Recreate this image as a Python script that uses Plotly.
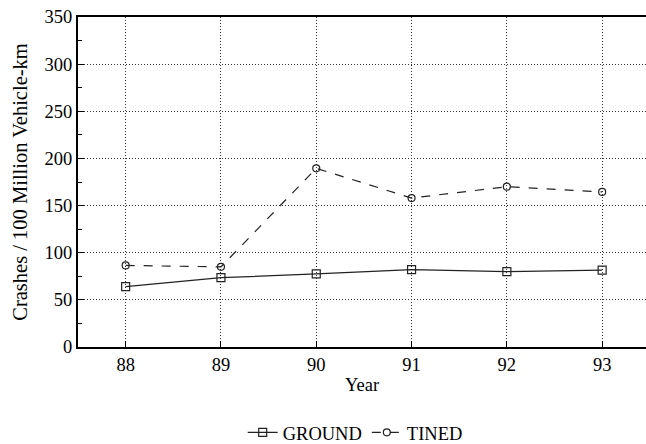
import plotly.graph_objects as go

years = [88, 89, 90, 91, 92, 93]
ground = [64, 73.5, 77.5, 82, 80, 81.5]
tined = [86.5, 85, 189.5, 158, 170, 164.5]

FONT = "Liberation Serif"
FS = 18.5

fig = go.Figure()
fig.add_trace(go.Scatter(
    x=years, y=ground, name="GROUND", mode="lines+markers",
    line=dict(color="#222", width=1.2),
    marker=dict(symbol="square-open", size=8, color="#222", line=dict(width=1.2)),
))
fig.add_trace(go.Scatter(
    x=years, y=tined, name="TINED", mode="lines+markers",
    line=dict(color="#222", width=1.2, dash="dash"),
    marker=dict(symbol="circle-open", size=7, color="#222", line=dict(width=1.2)),
))

fig.update_layout(
    width=646, height=444,
    margin=dict(l=78, r=0, t=17, b=97, autoexpand=False),
    paper_bgcolor="white", plot_bgcolor="white",
    font=dict(family=FONT, size=FS, color="black"),
    showlegend=True,
    legend=dict(orientation="h", x=0.488, xanchor="center", y=-0.26, yanchor="middle",
                font=dict(family=FONT, size=FS), itemwidth=30, tracegroupgap=0),
    xaxis=dict(
        range=[87.5, 93.46], tickmode="array", tickvals=years,
        ticktext=[str(v) for v in years],
        showline=True, linecolor="black", linewidth=2, mirror=True,
        ticks="inside", ticklen=6, tickcolor="black",
        showgrid=True, gridcolor="#333", griddash="1px,2px", gridwidth=1,
        zeroline=False, automargin=False,
        title=dict(text="Year", standoff=4, font=dict(family=FONT, size=FS)),
    ),
    yaxis=dict(
        range=[0, 350], tickmode="linear", tick0=0, dtick=50,
        showline=True, linecolor="black", linewidth=2,
        ticks="inside", ticklen=6, tickcolor="black",
        minor=dict(dtick=25, ticks="inside", ticklen=4, tickcolor="black", showgrid=False),
        showgrid=True, gridcolor="#333", griddash="1px,2px", gridwidth=1,
        zeroline=False, automargin=False,
        title=dict(text="Crashes / 100 Million Vehicle-km", standoff=11,
                   font=dict(family=FONT, size=20.5)),
    ),
)

fig.write_html("out.html")
